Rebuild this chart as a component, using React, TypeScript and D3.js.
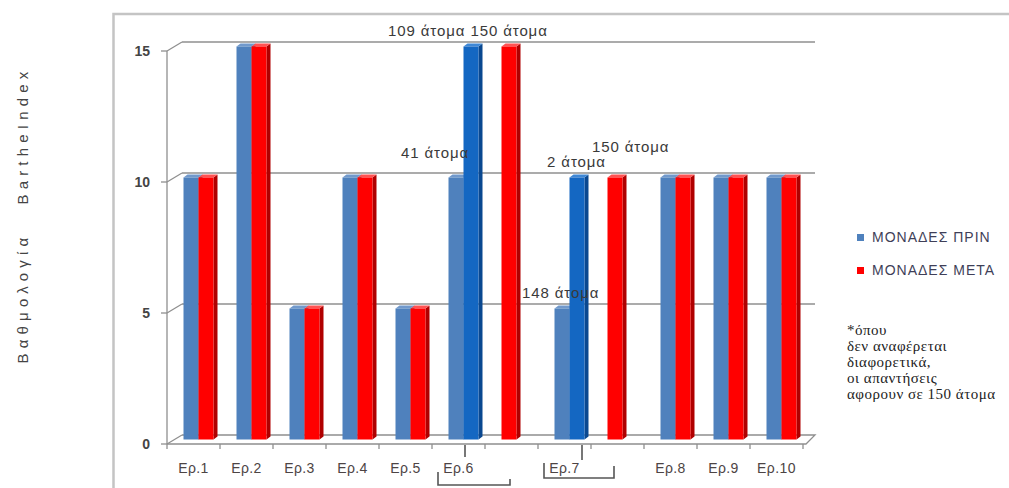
import React from "react";
import * as d3 from "d3";

// ---- data ----
const categories = ["Ερ.1", "Ερ.2", "Ερ.3", "Ερ.4", "Ερ.5", "Ερ.6", "", "Ερ.7", "", "Ερ.8", "Ερ.9", "Ερ.10"];
const before = [10, 15, 5, 10, 5, 10, 15, 5, 10, 10, 10, 10];
const after = [10, 15, 5, 10, 5, 15, 0, 10, 0, 10, 10, 10];
// kind of group: "pair" normal, "split" = before blue + after dark-blue, "single" = one red bar
const groupKind = ["pair", "pair", "pair", "pair", "pair", "split", "single", "split", "single", "pair", "pair", "pair"];
const yTicks = [0, 5, 10, 15];
const seriesNames = ["ΜΟΝΑΔΕΣ ΠΡΙΝ", "ΜΟΝΑΔΕΣ ΜΕΤΑ"];
const yTitle = "Βαθμολογία   BartheIndex";
const annotations = [
  { text: "109 άτομα 150 άτομα", slot: 5, value: 15 },
  { text: "41 άτομα", slot: 5, value: 10 },
  { text: "2 άτομα", slot: 7, value: 10 },
  { text: "150 άτομα", slot: 8, value: 10 },
  { text: "148 άτομα", slot: 7, value: 5 },
];
const footnote = ["*όπου", "δεν αναφέρεται", "διαφορετικά,", "οι απαντήσεις", "αφορουν σε 150 άτομα"];

// ---- style ----
const COLORS = {
  blue: { front: "#4F81BD", side: "#385F8F", top: "#7199CC" },
  dark: { front: "#1467C2", side: "#0A4890", top: "#3F88D6" },
  red: { front: "#FF0000", side: "#B00000", top: "#FF5252" },
};
const DX = 15, DY = -9; // wall depth
const BDX = 4, BDY = -3; // bar depth
const BAR_W = 15;
const GRID = "#8f8f8f";
const TXT = "#444444";
const SANS = "'Liberation Sans', Arial, sans-serif";

const annotationOffsets = [
  { dx: -44, dy: -15 },
  { dx: -31, dy: -24 },
  { dx: 9, dy: -15 },
  { dx: 1, dy: -30 },
  { dx: -16, dy: -15 },
];

export default function App() {
  const idx = categories.map((_, i) => i);
  const x = d3.scaleBand<number>().domain(idx).range([167, 803]).paddingInner(0).paddingOuter(0);
  const y = d3.scaleLinear().domain([0, 15]).range([444, 51]);
  const bw = x.bandwidth();
  const backRight = 815;

  const bar = (left: number, v: number, c: { front: string; side: string; top: string }, key: string) => {
    if (v <= 0) return null;
    const yb = y(0) + DY / 2;
    const yt = y(v) + DY / 2;
    const w = BAR_W;
    const top = `M${left},${yt} L${left + BDX},${yt + BDY} L${left + w + BDX},${yt + BDY} L${left + w},${yt} Z`;
    const side = `M${left + w},${yt} L${left + w + BDX},${yt + BDY} L${left + w + BDX},${yb + BDY} L${left + w},${yb} Z`;
    return (
      <g key={key}>
        <path d={side} fill={c.side} />
        <path d={top} fill={c.top} />
        <rect x={left} y={yt} width={w} height={yb - yt} fill={c.front} />
      </g>
    );
  };

  const bars: React.ReactNode[] = [];
  idx.forEach((i) => {
    const left = (x(i) as number) + DX / 2 + 9;
    const kind = groupKind[i];
    if (kind === "single") {
      bars.push(bar(left, before[i], COLORS.red, `s${i}`));
    } else {
      bars.push(bar(left, before[i], COLORS.blue, `b${i}`));
      bars.push(bar(left + BAR_W, after[i], kind === "split" ? COLORS.dark : COLORS.red, `a${i}`));
    }
  });

  const x5 = x(5) as number;
  const x7 = x(7) as number;

  return (
    <svg width={1009} height={488} style={{ position: "absolute", left: 0, top: 0, background: "#fff" }}>
      <rect x={0} y={0} width={1009} height={488} fill="#fff" />
      {/* outer border */}
      <path d="M113.5,500 L113.5,14 L1009,14" fill="none" stroke="#c4c4c4" strokeWidth={2.5} />

      {/* y title */}
      <text
        transform="translate(28,215) rotate(-90)"
        textAnchor="middle"
        fontFamily={SANS}
        fontSize={15}
        letterSpacing={5.2}
        fill={TXT}
        style={{ whiteSpace: "pre" }}
      >
        {yTitle}
      </text>

      {/* walls: gridlines */}
      {yTicks.map((t) => (
        <g key={t}>
          <line x1={167} y1={y(t)} x2={167 + DX} y2={y(t) + DY} stroke={GRID} strokeWidth={1.3} />
          {t > 0 && <line x1={167 + DX} y1={y(t) + DY} x2={backRight} y2={y(t) + DY} stroke={GRID} strokeWidth={1.3} />}
          <line x1={161} y1={y(t)} x2={167} y2={y(t)} stroke={GRID} strokeWidth={1.3} />
          <text x={150} y={y(t) + 5} textAnchor="end" fontFamily={SANS} fontSize={14} fontWeight={600} fill={TXT}>
            {t}
          </text>
        </g>
      ))}
      <line x1={167} y1={y(0)} x2={167} y2={y(15)} stroke={GRID} strokeWidth={1.3} />
      {/* floor */}
      <path
        d={`M${167 + DX},${y(0) + DY} L${backRight},${y(0) + DY} L${backRight - DX + 6},${y(0)} L167,${y(0)}`}
        fill="none"
        stroke={GRID}
        strokeWidth={1.3}
      />
      {d3.range(categories.length + 1).map((k) => {
        const xx = 167 + k * bw;
        return <line key={k} x1={xx} y1={y(0)} x2={xx} y2={y(0) + 5} stroke={GRID} strokeWidth={1.3} />;
      })}

      {bars}

      {/* x labels */}
      {idx.map((i) =>
        categories[i] ? (
          <text
            key={i}
            x={(x(i) as number) + bw / 2}
            y={473}
            textAnchor="middle"
            fontFamily={SANS}
            fontSize={14}
            letterSpacing={0.4}
            fill="#4d4444"
          >
            {categories[i]}
          </text>
        ) : null
      )}

      {/* brackets */}
      <g stroke="#555" strokeWidth={1.6} fill="none">
        <line x1={x5 + 33} y1={y(0) + 1} x2={x5 + 33} y2={457} />
        <path d={`M${x5 + 6},472 L${x5 + 6},485 L${x5 + 78},485 L${x5 + 78},479`} />
        <line x1={x7 + 44} y1={y(0) + 1} x2={x7 + 44} y2={460} />
        <path d={`M${x7 + 6},463 L${x7 + 6},478 L${x7 + 76},478 L${x7 + 76},466`} />
      </g>

      {/* annotations */}
      {annotations.map((a, k) => (
        <text
          key={k}
          x={(x(a.slot) as number) + annotationOffsets[k].dx}
          y={y(a.value) + annotationOffsets[k].dy}
          fontFamily={SANS}
          fontSize={15}
          letterSpacing={0.9}
          fill="#3a3a3a"
        >
          {a.text}
        </text>
      ))}

      {/* legend */}
      {seriesNames.map((s, k) => (
        <g key={s}>
          <rect x={857} y={234 + k * 33} width={7} height={7} fill={k === 0 ? COLORS.blue.front : COLORS.red.front} />
          <text x={872} y={242 + k * 33} fontFamily={SANS} fontSize={14} letterSpacing={1} fill="#3f3f58">
            {s}
          </text>
        </g>
      ))}

      {/* footnote */}
      {footnote.map((l, k) => (
        <text
          key={k}
          x={847}
          y={335 + k * 16}
          fontFamily="'Liberation Serif', 'Times New Roman', serif"
          fontSize={15}
          letterSpacing={0.5}
          fill="#222"
        >
          {l}
        </text>
      ))}
    </svg>
  );
}
